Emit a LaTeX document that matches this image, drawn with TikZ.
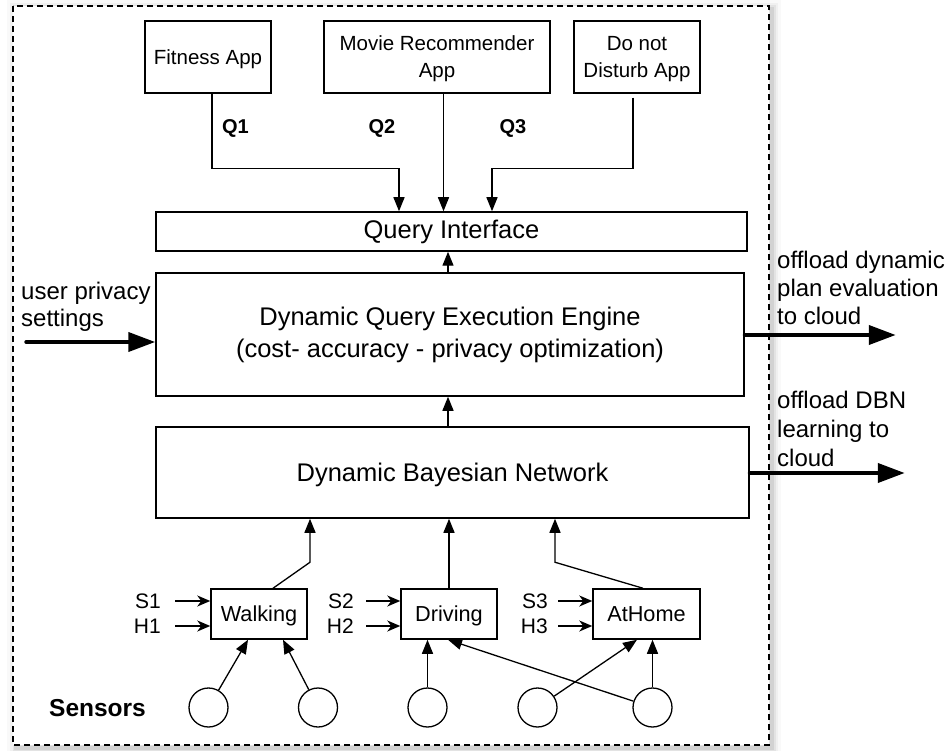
\documentclass[tikz,border=0pt]{standalone}
\usepackage{fontspec}
\setmainfont{Liberation Sans}
\usetikzlibrary{arrows.meta,calc}
\begin{document}
\begin{tikzpicture}[x=1pt,y=-1pt,
  box/.style={draw, line width=1.5pt, inner sep=0pt, align=center},
  appbox/.style={box, minimum width=126pt, minimum height=72pt, text depth=0pt, font=\fontsize{20.5}{27}\selectfont},
  bigbox/.style={box, font=\fontsize{25.5}{32}\selectfont},
  actbox/.style={box, minimum height=50pt, text depth=0pt, font=\fontsize{21.7}{26}\selectfont},
  sensor/.style={draw, circle, line width=1.3pt, minimum size=39pt, inner sep=0pt},
  conn/.style={line width=1.3pt},
  arr/.style={conn, -{Triangle[length=14pt,width=11pt]}},
  sarr/.style={conn, -{Stealth[length=13pt,width=11pt,inset=4pt]}},
  bigarr/.style={line width=4pt, line cap=round, -{Triangle[length=27pt,width=19pt]}},
  lbl/.style={font=\fontsize{21}{25}\selectfont, inner sep=0pt},
  qlbl/.style={font=\fontsize{20}{24}\selectfont\bfseries, inner sep=0pt},
  side/.style={align=left, inner sep=0pt, anchor=west},
]
\useasboundingbox (0,0) rectangle (950,751);
\fill[white] (0,0) rectangle (950,751);

% frame with soft shadow
\foreach \w/\o in {18/0.025, 12/0.035, 7/0.05, 3.5/0.07}
  \draw[line width=\w pt, black, opacity=\o] (16,9) rectangle (772,748);
\fill[white] (13,6) rectangle (769,745);
\draw[line width=1.4pt, dash pattern=on 6pt off 4pt] (13,6) rectangle (769,745);

% apps
\node[appbox] (fit) at (208,57) {Fitness App};
\node[appbox, minimum width=226pt] (movie) at (437,57) {Movie Recommender\\App};
\node[appbox] (dnd) at (637,57) {Do not\\Disturb App};

\node[qlbl] (q1) at (235.5,128) {Q1};
\node[qlbl] (q2) at (382,128) {Q2};
\node[qlbl] (q3) at (513,128) {Q3};

% main boxes
\node[bigbox, minimum width=591pt, minimum height=39pt] (qi) at (451.5,231.5) {Query Interface};
\node[bigbox, minimum width=588pt, minimum height=123pt] (eng) at (450,334.5)
  {Dynamic Query Execution Engine\\(cost- accuracy - privacy optimization)};
\node[bigbox, minimum width=593pt, minimum height=91pt, text depth=0pt] (dbn) at (452.5,472.5) {Dynamic Bayesian Network};

% activity boxes
\node[actbox, minimum width=96pt] (walk) at (259,614) {Walking};
\node[actbox, minimum width=96pt] (drive) at (449,614) {Driving};
\node[actbox, minimum width=107pt] (home) at (646.5,614) {AtHome};

% S/H labels
\node[lbl, anchor=east] (s1) at (161,601) {S1};
\node[lbl, anchor=east] (h1) at (161,626) {H1};
\node[lbl, anchor=east] (s2) at (354,601) {S2};
\node[lbl, anchor=east] (h2) at (354,626) {H2};
\node[lbl, anchor=east] (s3) at (548,601) {S3};
\node[lbl, anchor=east] (h3) at (548,626) {H3};

% sensors
\node[font=\fontsize{24.5}{28}\selectfont\bfseries, inner sep=0pt] (sens) at (97.5,708) {Sensors};
\node[sensor] (c1) at (208.5,707.5) {};
\node[sensor] (c2) at (318,707.5) {};
\node[sensor] (c3) at (427.5,707.5) {};
\node[sensor] (c4) at (537.5,707.5) {};
\node[sensor] (c5) at (652.5,707.5) {};

% side texts
\node[side, font=\fontsize{24}{26.5}\selectfont] (ups) at (21,307) {user privacy\\settings};
\node[side, font=\fontsize{24}{28}\selectfont] (off1) at (777,288) {offload dynamic\\plan evaluation\\to cloud};
\node[side, font=\fontsize{24}{29}\selectfont] (off2) at (777,429) {offload DBN\\learning to\\cloud};

% app -> query interface
\draw[arr] ($(fit.south)+(4,0)$) -- ++(0,75) -| ($(qi.north)+(-52.5,0)$);
\draw[arr] ($(movie.south)+(6.5,0)$) -- ($(qi.north)+(-8,0)$);
\draw[arr] ($(dnd.south)+(-4,4)$) -- ++(0,71) -| ($(qi.north)+(40.5,0)$);

% stack arrows
\draw[arr] ($(eng.north)+(-2,0)$) -- ($(qi.south)+(-3.5,0)$);
\draw[arr] ($(dbn.north)+(-4.5,0)$) -- ($(eng.south)+(-2,0)$);

% activities -> DBN
\draw[arr] ($(walk.north)+(14,0)$) -- ++(37,-26) -- ($(dbn.south)+(-142.5,0)$);
\draw[arr] (drive.north) -- (drive.north |- dbn.south);
\draw[arr] ($(home.north)+(-3.5,0)$) -- ++(-88,-26) -- ($(dbn.south)+(102.5,0)$);

% S/H arrows
\draw[sarr] ($(s1.east)+(14,0)$) -- (s1.east -| walk.west);
\draw[sarr] ($(h1.east)+(14,0)$) -- (h1.east -| walk.west);
\draw[sarr] ($(s2.east)+(12,0)$) -- (s2.east -| drive.west);
\draw[sarr] ($(h2.east)+(12,0)$) -- (h2.east -| drive.west);
\draw[sarr] ($(s3.east)+(10,0)$) -- (s3.east -| home.west);
\draw[sarr] ($(h3.east)+(10,0)$) -- (h3.east -| home.west);

% sensors -> activities
\draw[arr] (c1) -- ($(walk.south)+(-11,0)$);
\draw[arr] (c2) -- ($(walk.south)+(24,0)$);
\draw[arr] (c3) -- (c3 |- drive.south);
\draw[arr] (c4) -- ($(home.south)+(-9.5,0)$);
\draw[arr] (c5) -- (c5 |- home.south);
\draw[arr] (c5) -- ($(drive.south)+(-1,0)$);

% thick arrows
\draw[bigarr] ($(eng.west)+(-129,7.5)$) -- ($(eng.west)+(0,7.5)$);
\draw[bigarr] ($(eng.east)+(0,0.5)$) -- ++(151,0);
\draw[bigarr] ($(dbn.east)+(0,0.5)$) -- ++(155,0);
\end{tikzpicture}
\end{document}
